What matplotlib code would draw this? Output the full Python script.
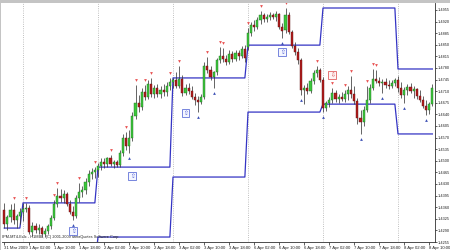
import matplotlib
matplotlib.use('Agg')
import matplotlib.pyplot as plt
import numpy as np

# ---------------- data (GBPUSD H1, 31 Mar 18:00 .. 8 Apr 11:00) ----------------
opens = [1.4352, 1.4309, 1.4331, 1.4352, 1.4321, 1.4334, 1.4346, 1.4355, 1.4358, 1.4285,
         1.4303, 1.4291, 1.4297, 1.4279, 1.4288, 1.4303, 1.4327, 1.4370, 1.4394, 1.4388,
         1.4400, 1.4370, 1.4346, 1.4334, 1.4388, 1.4406, 1.4412, 1.4436, 1.4460, 1.4466,
         1.4472, 1.4484, 1.4496, 1.4490, 1.4508, 1.4490, 1.4496, 1.4487, 1.4523, 1.4569,
         1.4545, 1.4569, 1.4635, 1.4674, 1.4662, 1.4708, 1.4693, 1.4732, 1.4702, 1.4720,
         1.4702, 1.4714, 1.4708, 1.4726, 1.4738, 1.4744, 1.4726, 1.4747, 1.4705, 1.4720,
         1.4711, 1.4693, 1.4683, 1.4677, 1.4693, 1.4786, 1.4774, 1.4753, 1.4768, 1.4804,
         1.4816, 1.4807, 1.4798, 1.4822, 1.4807, 1.4825, 1.4816, 1.4837, 1.4843, 1.4886,
         1.4910, 1.4904, 1.4925, 1.4940, 1.4928, 1.4934, 1.4940, 1.4934, 1.4943, 1.4904,
         1.4895, 1.4940, 1.4889, 1.4846, 1.4828, 1.4804, 1.4714, 1.4720, 1.4711, 1.4741,
         1.4765, 1.4774, 1.4744, 1.4659, 1.4674, 1.4683, 1.4705, 1.4687, 1.4693, 1.4687,
         1.4702, 1.4714, 1.4702, 1.4680, 1.4629, 1.4617, 1.4653, 1.4683, 1.4720, 1.4747,
         1.4741, 1.4735, 1.4738, 1.4729, 1.4726, 1.4735, 1.4744, 1.4720, 1.4699, 1.4714,
         1.4723, 1.4711, 1.4717, 1.4696, 1.4683, 1.4665, 1.4653, 1.4671]
highs = [1.4373, 1.4337, 1.4370, 1.4373, 1.4340, 1.4358, 1.4373, 1.4373, 1.4367, 1.4315,
         1.4312, 1.4309, 1.4303, 1.4297, 1.4309, 1.4337, 1.4382, 1.4418, 1.4415, 1.4412,
         1.4406, 1.4382, 1.4364, 1.4397, 1.4433, 1.4424, 1.4448, 1.4472, 1.4478, 1.4481,
         1.4493, 1.4508, 1.4508, 1.4511, 1.4517, 1.4502, 1.4502, 1.4533, 1.4581, 1.4587,
         1.4593, 1.4647, 1.4729, 1.4699, 1.4720, 1.4729, 1.4744, 1.4750, 1.4729, 1.4732,
         1.4726, 1.4732, 1.4738, 1.4750, 1.4750, 1.4768, 1.4786, 1.4759, 1.4732, 1.4735,
         1.4726, 1.4705, 1.4696, 1.4702, 1.4798, 1.4813, 1.4786, 1.4771, 1.4810, 1.4843,
         1.4840, 1.4819, 1.4834, 1.4831, 1.4834, 1.4834, 1.4846, 1.4849, 1.4901, 1.4919,
         1.4925, 1.4934, 1.4952, 1.4946, 1.4943, 1.4949, 1.4946, 1.4952, 1.4946, 1.4916,
         1.4961, 1.4949, 1.4895, 1.4858, 1.4840, 1.4810, 1.4729, 1.4735, 1.4750, 1.4774,
         1.4786, 1.4780, 1.4753, 1.4680, 1.4693, 1.4720, 1.4714, 1.4702, 1.4708, 1.4714,
         1.4726, 1.4756, 1.4726, 1.4690, 1.4653, 1.4665, 1.4726, 1.4732, 1.4777, 1.4774,
         1.4753, 1.4747, 1.4750, 1.4744, 1.4744, 1.4750, 1.4756, 1.4738, 1.4723, 1.4732,
         1.4735, 1.4726, 1.4720, 1.4714, 1.4696, 1.4683, 1.4677, 1.4732]
lows = [1.4297, 1.4291, 1.4315, 1.4309, 1.4297, 1.4309, 1.4318, 1.4346, 1.4279, 1.4273,
        1.4282, 1.4279, 1.4270, 1.4270, 1.4279, 1.4294, 1.4321, 1.4361, 1.4376, 1.4373,
        1.4364, 1.4340, 1.4321, 1.4327, 1.4376, 1.4391, 1.4400, 1.4424, 1.4445, 1.4448,
        1.4451, 1.4472, 1.4478, 1.4481, 1.4484, 1.4478, 1.4481, 1.4481, 1.4514, 1.4533,
        1.4523, 1.4560, 1.4626, 1.4647, 1.4653, 1.4683, 1.4687, 1.4693, 1.4690, 1.4693,
        1.4690, 1.4696, 1.4696, 1.4714, 1.4720, 1.4720, 1.4720, 1.4696, 1.4699, 1.4702,
        1.4687, 1.4668, 1.4647, 1.4671, 1.4687, 1.4765, 1.4744, 1.4720, 1.4759, 1.4795,
        1.4798, 1.4789, 1.4792, 1.4798, 1.4801, 1.4804, 1.4810, 1.4798, 1.4834, 1.4877,
        1.4892, 1.4898, 1.4913, 1.4919, 1.4919, 1.4925, 1.4928, 1.4922, 1.4898, 1.4871,
        1.4886, 1.4883, 1.4840, 1.4819, 1.4792, 1.4699, 1.4671, 1.4702, 1.4705, 1.4732,
        1.4753, 1.4738, 1.4647, 1.4650, 1.4662, 1.4674, 1.4677, 1.4674, 1.4680, 1.4677,
        1.4683, 1.4690, 1.4671, 1.4611, 1.4581, 1.4605, 1.4647, 1.4674, 1.4714, 1.4735,
        1.4726, 1.4705, 1.4720, 1.4717, 1.4720, 1.4726, 1.4708, 1.4690, 1.4674, 1.4699,
        1.4705, 1.4690, 1.4687, 1.4677, 1.4659, 1.4638, 1.4641, 1.4665]
closes = [1.4309, 1.4331, 1.4352, 1.4321, 1.4334, 1.4346, 1.4355, 1.4358, 1.4285, 1.4303,
          1.4291, 1.4297, 1.4279, 1.4288, 1.4303, 1.4327, 1.4370, 1.4394, 1.4388, 1.4400,
          1.4370, 1.4346, 1.4334, 1.4388, 1.4406, 1.4412, 1.4436, 1.4460, 1.4466, 1.4472,
          1.4484, 1.4496, 1.4490, 1.4508, 1.4490, 1.4496, 1.4487, 1.4523, 1.4569, 1.4545,
          1.4569, 1.4635, 1.4674, 1.4662, 1.4708, 1.4693, 1.4732, 1.4702, 1.4720, 1.4702,
          1.4714, 1.4708, 1.4726, 1.4738, 1.4744, 1.4726, 1.4747, 1.4705, 1.4720, 1.4711,
          1.4693, 1.4683, 1.4677, 1.4693, 1.4786, 1.4774, 1.4753, 1.4768, 1.4804, 1.4816,
          1.4807, 1.4798, 1.4822, 1.4807, 1.4825, 1.4816, 1.4837, 1.4810, 1.4886, 1.4910,
          1.4904, 1.4925, 1.4940, 1.4928, 1.4934, 1.4940, 1.4934, 1.4943, 1.4904, 1.4892,
          1.4940, 1.4889, 1.4846, 1.4828, 1.4804, 1.4714, 1.4720, 1.4711, 1.4741, 1.4765,
          1.4774, 1.4744, 1.4659, 1.4674, 1.4683, 1.4705, 1.4687, 1.4693, 1.4687, 1.4702,
          1.4714, 1.4702, 1.4680, 1.4629, 1.4617, 1.4653, 1.4683, 1.4720, 1.4747, 1.4741,
          1.4735, 1.4738, 1.4729, 1.4726, 1.4735, 1.4744, 1.4720, 1.4699, 1.4714, 1.4723,
          1.4711, 1.4717, 1.4696, 1.4683, 1.4665, 1.4653, 1.4671, 1.4720]

# trading sessions shown and their previous-day high / low levels
session_names = ['31 Mar', '1 Apr', '2 Apr', '3 Apr', '6 Apr', '7 Apr', '8 Apr']
session_bars = [6, 24, 24, 24, 24, 24, 12]
prev_day_high = [1.4297, 1.4373, 1.4481, 1.4750, 1.4849, 1.4961, 1.4777]
prev_day_low = [1.4160, 1.4190, 1.4270, 1.4451, 1.4647, 1.4671, 1.4581]

# fractals (bar indices)
up_fractal_bars = [3, 7, 16, 17, 24, 29, 34, 39, 42, 45, 47, 53, 56, 65, 69, 70,
                   78, 82, 90, 100, 105, 109, 111, 116, 118, 119]
down_fractal_bars = [22, 40, 62, 67, 89, 95, 102, 114, 121, 128, 135]

# boxed arrow signals
buy_signal_bars = [22, 41, 58, 89]
buy_signal_prices = [1.4288, 1.4454, 1.4644, 1.4828]
sell_signal_bars = [105]
sell_signal_prices = [1.4759]

time_tick_bars = [0, 8, 16, 24, 32, 40, 48, 56, 64, 72, 80, 88, 96, 104, 112, 120, 128, 136]
time_tick_labels = ['31 Mar 2009', '1 Apr 02:00', '1 Apr 10:00', '1 Apr 18:00',
                    '2 Apr 02:00', '2 Apr 10:00', '2 Apr 18:00', '3 Apr 02:00',
                    '3 Apr 10:00', '3 Apr 18:00', '6 Apr 02:00', '6 Apr 10:00',
                    '6 Apr 18:00', '7 Apr 02:00', '7 Apr 10:00', '7 Apr 18:00',
                    '8 Apr 02:00', '8 Apr 10:00']
price_tick_labels = ['1.4955', '1.4920', '1.4885', '1.4850', '1.4815', '1.4780', '1.4745',
                     '1.4710', '1.4675', '1.4640', '1.4605', '1.4570', '1.4535', '1.4500',
                     '1.4465', '1.4430', '1.4395', '1.4360', '1.4325', '1.4290', '1.4255']
watermark = 'IPM-MT4-Eclx - H1MBL, (C) 2001-2009 MetaQuotes Software Corp.'

# ---------------- drawing ----------------
FONT = 'Liberation Sans'
o = np.array(opens); h = np.array(highs); l = np.array(lows); c = np.array(closes)
n = len(c)
x = np.arange(n)

fig = plt.figure(figsize=(4.5, 2.5), dpi=100, facecolor='white')
ax = fig.add_axes([2 / 450, 8 / 250, 433 / 450, 239 / 250])
ax.set_facecolor('white')

# window border (grey top / left)
fig.add_artist(plt.Rectangle((0, 1 - 2.5 / 250), 1, 2.5 / 250, transform=fig.transFigure,
                             color='#c4c4c4', lw=0))
fig.add_artist(plt.Rectangle((0, 0), 1.2 / 450, 1, transform=fig.transFigure,
                             color='#c4c4c4', lw=0))

# day separators
starts = np.cumsum([0] + session_bars[:-1])
for s in starts[1:]:
    ax.axvline(s, color='#9a9a9a', lw=0.5, ls=(0, (1.2, 2.0)), zorder=1)

# previous day high / low lines
hi_line = np.repeat(prev_day_high, session_bars)
lo_line = np.repeat(prev_day_low, session_bars)
ax.plot(x, hi_line, color='#3434c4', lw=0.9, zorder=2)
ax.plot(x, lo_line, color='#3434c4', lw=0.9, zorder=2)

# candles
bull = c >= o
ax.vlines(x, l, h, color='#3a3a3a', lw=0.55, zorder=3)
body_h = np.maximum(np.abs(c - o), 0.00012)
ax.bar(x[bull], body_h[bull], bottom=np.minimum(o, c)[bull], width=0.66,
       color='#3cc83c', edgecolor='#206a20', lw=0.3, zorder=4)
ax.bar(x[~bull], body_h[~bull], bottom=np.minimum(o, c)[~bull], width=0.66,
       color='#b41c1c', edgecolor='#5c1010', lw=0.3, zorder=4)

# fractals
ub = np.array(up_fractal_bars); db = np.array(down_fractal_bars)
ax.plot(ub, h[ub] + 0.0015, 'v', ms=2.0, color='#e85050', mew=0, zorder=5)
ax.plot(db, l[db] - 0.0015, '^', ms=2.0, color='#3c50b4', mew=0, zorder=5)

# signal boxes
for b, p in zip(buy_signal_bars, buy_signal_prices):
    ax.text(b, p, '\u21e7', ha='center', va='center', fontsize=4.2, color='#4050d0',
            family='DejaVu Sans', zorder=6,
            bbox=dict(boxstyle='square,pad=0.25', fc='#f4f6ff', ec='#6272d8', lw=0.6))
for b, p in zip(sell_signal_bars, sell_signal_prices):
    ax.text(b, p, '\u21e9', ha='center', va='center', fontsize=4.2, color='#d04040',
            family='DejaVu Sans', zorder=6,
            bbox=dict(boxstyle='square,pad=0.25', fc='#fff4f4', ec='#e06060', lw=0.6))

ax.set_xlim(-0.72, 137.84)
ax.set_ylim(1.42550, 1.49761)

# price axis on the right
ax.yaxis.tick_right()
price_ticks = [float(s) for s in price_tick_labels]
ax.set_yticks(price_ticks)
ax.set_yticklabels(price_tick_labels, fontsize=2.8, family=FONT, color='#202020')
ax.tick_params(axis='y', length=1.5, width=0.5, pad=0.5, colors='#202020')

# time axis
ax.set_xticks(time_tick_bars)
ax.set_xticklabels(time_tick_labels, fontsize=3.1, family=FONT, color='#202020')
for lab in ax.get_xticklabels():
    lab.set_ha('left')
ax.tick_params(axis='x', length=2, width=0.5, pad=0.6, colors='#202020')

for side in ['left', 'top']:
    ax.spines[side].set_visible(False)
for side in ['right', 'bottom']:
    ax.spines[side].set_color('#303030')
    ax.spines[side].set_linewidth(0.6)

ax.text(0.0, 0.012, watermark, transform=ax.transAxes, fontsize=2.8, family=FONT,
        color='#202020', ha='left', va='bottom')

fig.savefig('out.png', dpi=100, facecolor='white')
